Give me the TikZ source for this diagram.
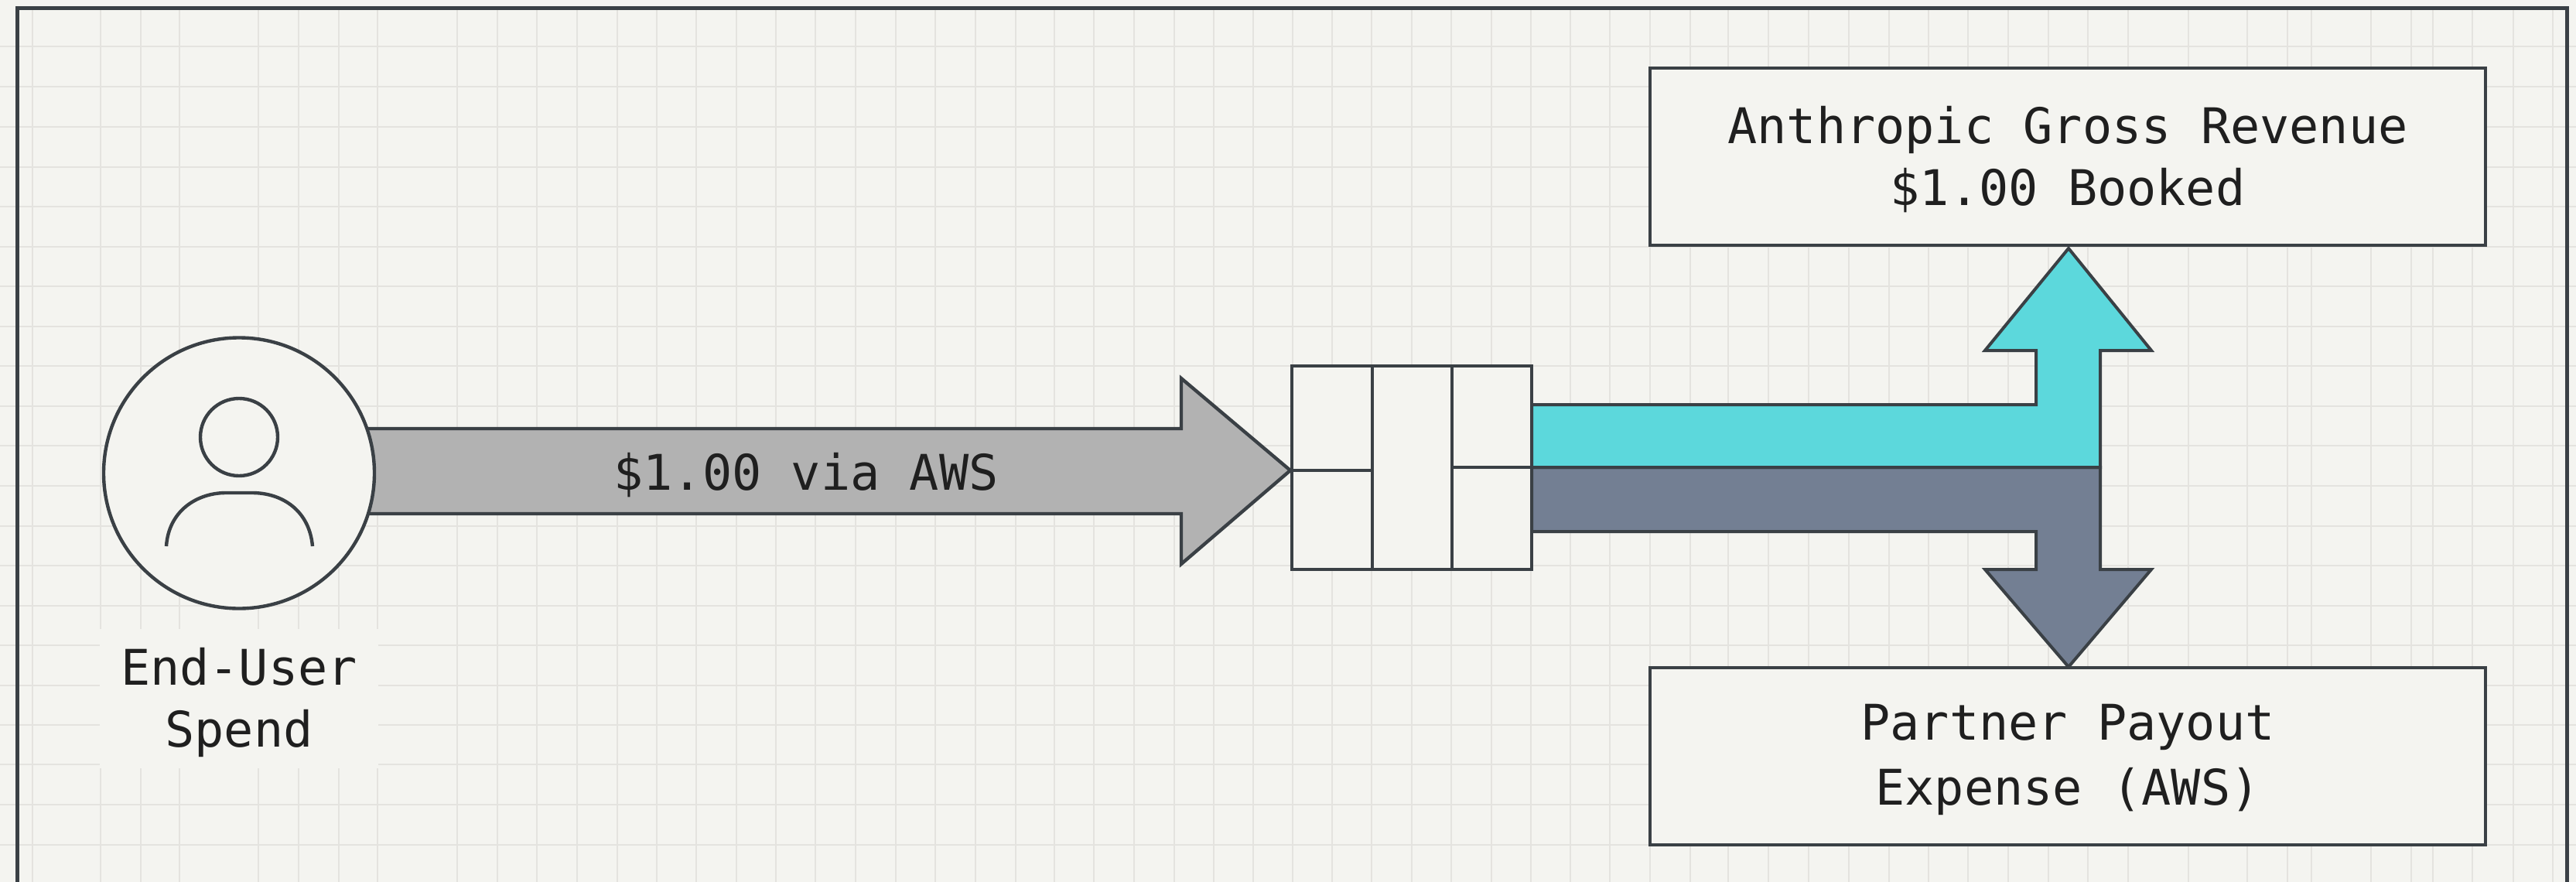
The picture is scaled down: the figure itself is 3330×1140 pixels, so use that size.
\documentclass[tikz,border=0pt]{standalone}
\usepackage{fontspec}
\setmonofont{DejaVu Sans Mono}
\definecolor{paper}{HTML}{F4F4F0}
\definecolor{ink}{HTML}{3A4045}
\definecolor{gridline}{HTML}{E4E3DF}
\definecolor{teal}{HTML}{5CD8DC}
\definecolor{slate}{HTML}{737F93}
\definecolor{inflow}{HTML}{B2B2B2}
\tikzset{
  gridv/.style={gridline,line width=1.8pt},
  gridh/.style={gridline,line width=2.6pt},
  outline/.style={ink,line width=4.4pt,line join=miter},
  thinline/.style={ink,line width=3.6pt},
  txt/.style={font=\ttfamily\fontsize{63.5}{80}\selectfont,text=black!88,align=center,inner sep=0pt,outer sep=0pt},
  boxed/.style={draw=ink,line width=4.6pt,fill=paper,minimum width=1080pt,minimum height=229pt,inner sep=0pt,outer sep=0pt},
  cell/.style={draw=ink,line width=4pt,fill=paper,inner sep=0pt,outer sep=0pt}
}
\begin{document}
\begin{tikzpicture}[x=1pt,y=-1pt]
\useasboundingbox (0,0) rectangle (3330,1140);
\fill[paper] (0,0) rectangle (3330,1140);
% grid
\foreach \gy in {60,112,164,216,267,319,370,422,473,525,576,628,680,731,783,834,886,937,988,1040,1092}
  \draw[gridh] (0,\gy) -- (3330,\gy);
\foreach \gx in {42,130,182,232,334,386,438,488,591,643,694,746,798,849,900,952,1003,1054,
  1106,1158,1209,1261,1313,1363,1414,1466,1518,1569,1620,1671,1722,1773,1825,1876,1928,1979,2030,2081,2133,2185,
  2234,2286,2338,2390,2442,2493,2544,2596,2648,2699,2751,2829,2905,2957,2988,3065,3117,3145,3196,3249,3300}
  \draw[gridv] (\gx,11) -- (\gx,1140);
% frame (runs off the lower edge)
\draw[ink,line width=5pt,line join=miter] (22,1145) -- (22,11) -- (3318,11) -- (3318,1145);
% label patch
\node[fill=paper,minimum width=360pt,minimum height=180pt,inner sep=0pt] (patch) at (309,903) {};
\node[txt] (spend) at (309,908) {End-User\\Spend};
% router
\node[cell,minimum width=310pt,minimum height=263pt] (router) at (1825,604.5) {};
\draw[thinline] (1774,473) -- (1774,736);
\draw[thinline] (1877,473) -- (1877,736);
\draw[thinline] (router.west |- 0,608) -- (1774,608);
\draw[thinline] (1877,604) -- (router.east |- 0,604);
% inflow arrow
\path[draw=ink,line width=4.4pt,fill=inflow,line join=miter]
  (309,554) -- (1527,554) -- (1527,489) -- (1668,608) -- (1527,729) -- (1527,664) -- (309,664) -- cycle;
\node[txt] (via) at (1042,614) {\$1.00 via AWS};
% user
\node[circle,draw=ink,line width=4.4pt,fill=paper,minimum size=350pt,inner sep=0pt,outer sep=0pt] (user) at (309,611.5) {};
\node[circle,draw=ink,line width=4.4pt,minimum size=100pt,inner sep=0pt,outer sep=0pt] (head) at (309,565) {};
\draw[outline] (215,706) .. controls (218,660) and (255,637) .. (292,637) -- (326,637) .. controls (365,637) and (400,660) .. (404,706);
% split arrows
\path[fill=slate,draw=ink,line width=4pt,line join=miter]
  (1980,604) -- (2715,604) -- (2715,736) -- (2781,736) -- (2674,862) -- (2566,736) -- (2632,736) -- (2632,687) -- (1980,687) -- cycle;
\path[fill=teal,draw=ink,line width=4pt,line join=miter]
  (1980,523) -- (2632,523) -- (2632,453) -- (2566,453) -- (2674,321) -- (2781,453) -- (2715,453) -- (2715,604) -- (1980,604) -- cycle;
% boxes
\node[boxed] (gross) at (2673,202.5) {};
\node[txt] (grosstext) at (2673,206.5) {Anthropic Gross Revenue\\\$1.00 Booked};
\node[boxed] (payout) at (2673,977.5) {};
\node[txt] (payouttext) at (2673,982) {Partner Payout\\[4pt]Expense (AWS)};
\end{tikzpicture}
\end{document}
